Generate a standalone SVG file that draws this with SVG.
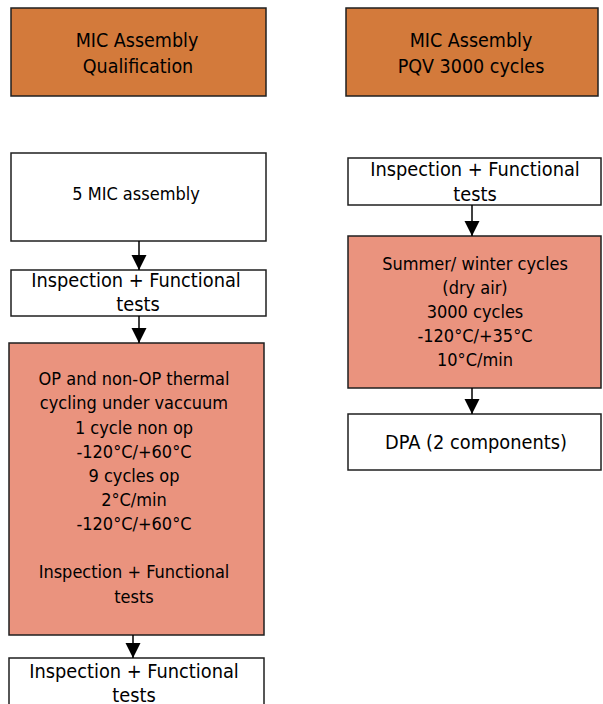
<svg xmlns="http://www.w3.org/2000/svg" width="603" height="704" viewBox="0 0 603 704">
  <style>
    .box { stroke: #1f1f1f; stroke-width: 1.5; }
    .head { fill: #D37A3B; }
    .plain { fill: #ffffff; }
    .hot { fill: #EA937E; }
    text { font-family: "DejaVu Sans Condensed", "DejaVu Sans", sans-serif; fill: #000; text-anchor: middle; }
    .title { font-size: 19.5px; }
    .t20 { font-size: 19.8px; }
    .t18 { font-size: 18px; }
    .t17 { font-size: 18px; }
    .conn { stroke: #000; stroke-width: 1.5; fill: none; marker-end: url(#arrow); }
  </style>
  <defs>
    <marker id="arrow" markerUnits="userSpaceOnUse" markerWidth="16" markerHeight="16" viewBox="0 0 16 16" refX="15" refY="8" orient="auto">
      <path d="M0,0.5 L15,8 L0,15.5 Z" fill="#000"/>
    </marker>
  </defs>
  <rect width="603" height="704" fill="#fff"/>

  <!-- left column -->
  <g id="qualification-title">
    <rect class="box head" x="11" y="8" width="255" height="88"/>
    <text class="title" x="137" y="47">MIC Assembly</text>
    <text class="title" x="138" y="73">Qualification</text>
  </g>
  <g id="mic-assembly">
    <rect class="box plain" x="11" y="153" width="255" height="88"/>
    <text class="t17" x="136" y="200">5 MIC assembly</text>
  </g>
  <g id="inspection-1">
    <rect class="box plain" x="11" y="270" width="255" height="46"/>
    <text class="t20" x="136" y="287">Inspection + Functional</text>
    <text class="t20" x="138" y="311">tests</text>
  </g>
  <g id="thermal-cycling">
    <rect class="box hot" x="9" y="343" width="255" height="292"/>
    <text class="t17" x="134" y="385">OP and non-OP thermal</text>
    <text class="t17" x="134" y="409">cycling under vaccuum</text>
    <text class="t17" x="134" y="434">1 cycle non op</text>
    <text class="t17" x="134" y="458">-120°C/+60°C</text>
    <text class="t17" x="134" y="482">9 cycles op</text>
    <text class="t17" x="134" y="506">2°C/min</text>
    <text class="t17" x="134" y="530">-120°C/+60°C</text>
    <text class="t17" x="134" y="578">Inspection + Functional</text>
    <text class="t17" x="134" y="603">tests</text>
  </g>
  <g id="inspection-2">
    <rect class="box plain" x="9" y="658" width="255" height="60"/>
    <text class="t20" x="134" y="678">Inspection + Functional</text>
    <text class="t20" x="134" y="702">tests</text>
  </g>

  <!-- right column -->
  <g id="pqv-title">
    <rect class="box head" x="346" y="8" width="252" height="88"/>
    <text class="title" x="471" y="47">MIC Assembly</text>
    <text class="title" x="471" y="73">PQV 3000 cycles</text>
  </g>
  <g id="inspection-3">
    <rect class="box plain" x="348" y="158" width="253" height="47"/>
    <text class="t20" x="475" y="176">Inspection + Functional</text>
    <text class="t20" x="475" y="201">tests</text>
  </g>
  <g id="summer-winter">
    <rect class="box hot" x="348" y="236" width="253" height="152"/>
    <text class="t18" x="475" y="270">Summer/ winter cycles</text>
    <text class="t18" x="475" y="294">(dry air)</text>
    <text class="t18" x="475" y="318">3000 cycles</text>
    <text class="t18" x="475" y="342">-120°C/+35°C</text>
    <text class="t18" x="475" y="366">10°C/min</text>
  </g>
  <g id="dpa">
    <rect class="box plain" x="348" y="414" width="253" height="56"/>
    <text class="t20" x="476" y="449">DPA (2 components)</text>
  </g>

  <!-- connectors -->
  <g id="connectors">
    <line class="conn" x1="139" y1="241" x2="139" y2="270"/>
    <line class="conn" x1="139" y1="316" x2="139" y2="343"/>
    <line class="conn" x1="133" y1="635" x2="133" y2="658"/>
    <line class="conn" x1="472" y1="205" x2="472" y2="236"/>
    <line class="conn" x1="472" y1="388" x2="472" y2="414"/>
  </g>
</svg>
